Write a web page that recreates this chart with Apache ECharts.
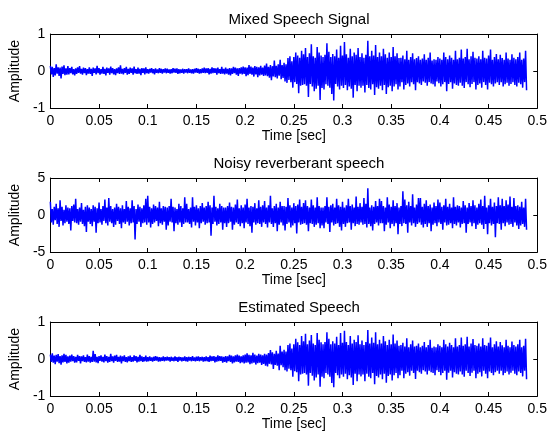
<!DOCTYPE html>
<html>
<head>
<meta charset="utf-8">
<script src="https://cdn.jsdelivr.net/npm/echarts@6/dist/echarts.min.js"></script>
<style>html,body{margin:0;padding:0;background:#fff}#c{width:550px;height:437px}</style>
</head>
<body>
<div id="c"></div>
<script>
// sample interval of the signals (seconds)
const sampleStep = 0.001;
const titles = ['Mixed Speech Signal', 'Noisy reverberant speech', 'Estimated Speech'];
const xTicks = [0, 0.05, 0.1, 0.15, 0.2, 0.25, 0.3, 0.35, 0.4, 0.45, 0.5];
const yRanges = [[-1, 1, 1], [-5, 5, 5], [-1, 1, 1]];

const mixed = [
.14,-.09,.11,-.16,.08,-.12,.18,-.07,.1,-.13,.09,-.2,.12,-.08,.15,-.11,.07,-.1,.13,-.09,
.08,-.06,.11,-.09,.05,-.12,.07,-.08,.1,-.05,.13,-.07,.06,-.1,.09,-.06,.08,-.11,.05,-.07,
.1,-.08,.06,-.13,.09,-.05,.07,-.09,.14,-.06,.08,-.1,.05,-.07,.11,-.08,.06,-.12,.09,-.05,
.07,-.1,.12,-.06,.08,-.09,.05,-.11,.07,-.06,.1,-.08,.15,-.07,.06,-.09,.08,-.05,.11,-.1,
.06,-.08,.09,-.05,.07,-.1,.12,-.06,.05,-.08,.09,-.07,.06,-.11,.08,-.05,.07,-.09,.1,-.06,
.05,-.07,.06,-.04,.08,-.06,.05,-.09,.07,-.05,.04,-.06,.08,-.05,.06,-.07,.05,-.04,.07,-.06,
.06,-.05,.04,-.07,.05,-.06,.08,-.04,.06,-.05,.07,-.08,.05,-.06,.04,-.05,.06,-.07,.05,-.04,
.05,-.06,.07,-.05,.04,-.06,.05,-.07,.06,-.04,.08,-.05,.06,-.07,.05,-.06,.07,-.05,.09,-.06,
.07,-.05,.08,-.09,.06,-.07,.1,-.06,.08,-.05,.07,-.1,.09,-.06,.05,-.08,.11,-.07,.06,-.09,
.09,-.07,.06,-.1,.08,-.12,.07,-.08,.11,-.06,.09,-.1,.07,-.13,.08,-.07,.1,-.09,.12,-.08,
.1,-.14,.09,-.11,.16,-.08,.12,-.1,.09,-.15,.13,-.09,.11,-.17,.1,-.12,.14,-.1,.09,-.13,
.15,-.12,.2,-.14,.11,-.18,.16,-.25,.13,-.15,.28,-.17,.14,-.2,.18,-.13,.3,-.22,.16,-.19,
.22,-.28,.18,-.32,.35,-.24,.4,-.3,.26,-.45,.38,-.3,.5,-.35,.42,-.6,.36,-.4,.55,-.38,
.45,-.36,.62,-.4,.38,-.7,.48,-.35,.72,-.42,.4,-.55,.36,-.48,.65,-.4,.5,-.78,.42,-.46,
.38,-.5,.44,-.36,.75,-.4,.52,-.45,.38,-.62,.46,-.8,.4,-.35,.58,-.42,.36,-.5,.68,-.4,
.42,-.46,.78,-.38,.45,-.52,.36,-.42,.6,-.48,.4,-.72,.5,-.38,.44,-.55,.62,-.4,.38,-.45,
.48,-.4,.36,-.58,.44,-.38,.82,-.46,.4,-.5,.55,-.36,.42,-.65,.7,-.44,.38,-.48,.5,-.4,
.4,-.52,.6,-.38,.45,-.62,.36,-.44,.5,-.4,.38,-.55,.65,-.42,.4,-.36,.48,-.5,.35,-.42,
.36,-.3,.42,-.5,.32,-.38,.55,-.34,.3,-.42,.38,-.3,.48,-.36,.32,-.52,.35,-.3,.4,-.34,
.3,-.38,.34,-.28,.45,-.32,.3,-.4,.36,-.3,.5,-.34,.28,-.36,.32,-.42,.3,-.28,.38,-.33,
.34,-.42,.3,-.36,.5,-.3,.38,-.55,.32,-.35,.42,-.3,.36,-.48,.3,-.34,.55,-.38,.32,-.4,
.36,-.32,.58,-.4,.34,-.46,.38,-.3,.6,-.36,.32,-.44,.4,-.35,.52,-.3,.36,-.5,.34,-.38,
.4,-.34,.32,-.45,.55,-.3,.36,-.38,.34,-.5,.42,-.32,.58,-.36,.3,-.42,.38,-.34,.46,-.3,
.32,-.38,.44,-.3,.35,-.42,.3,-.36,.5,-.32,.34,-.4,.3,-.35,.45,-.3,.36,-.38,.32,-.42,
.38,-.32,.5,-.36,.3,-.45,.34,-.3,.55,-.52
];

const noisy = [
1.8,-1,.8,-1.3,1.1,-.7,1.5,-1.2,.9,-1.6,2,-.8,1.1,-1.4,.7,-1.1,1.3,-.9,1,-1.2,
.9,-2.1,1.2,-.8,1.4,-1,2.2,-1.1,.8,-1.3,1,-.9,1.6,-1.2,.7,-1.5,1.1,-2.3,1.3,-.9,
1,-1.2,.8,-1.5,1.3,-.9,1.1,-2.4,.9,-1.1,1.7,-1,.8,-1.3,1.2,-.8,2.1,-1.1,1,-1.4,
2.3,-.9,1.2,-1.1,.8,-1.6,1,-1.3,1.5,-.8,1.1,-1.2,.9,-1.8,1.3,-1,.8,-1.2,1.9,-.9,
1.1,-1.4,.9,-1.1,2,-1,1.2,-3.3,.8,-1.2,1.4,-.9,1.1,-1.6,.9,-1.1,1.3,-1,2.2,-1.3,
2.6,-1,1.1,-1.7,.9,-1.2,1.4,-1,1.2,-.8,1,-1.5,1.8,-1.1,.9,-1.3,1.2,-.9,1.1,-2,
1,-1.4,1.2,-.9,2.2,-1,1.1,-2.2,1,-1.1,.8,-1.3,1.5,-1,1.2,-1.6,.9,-1.2,2.4,-1,
1.5,-1,.8,-1.2,1,-1.7,2.4,-.9,1.1,-1.4,1.3,-1,.9,-1.8,1.2,-1.1,1.6,-.9,1,-1.3,
1.2,-1.1,1.8,-1,1.3,-2.8,1,-1.2,2.6,-.9,1.1,-1.4,.9,-1.2,1.5,-1,1.2,-2,1,-1.1,
1,-1.6,1.2,-1.1,1.7,-.9,1.1,-2,1,-1.3,1.4,-1,2.1,-1.2,.9,-1.5,1.3,-1.1,1,-1.8,
1.4,-1,2.2,-1.2,1,-1.5,1.2,-2.4,1.1,-1,1.6,-1.3,.9,-1.1,2,-1.2,1.1,-1.6,1.3,-1,
1.9,-1.2,1,-1.7,1.3,-1,2.6,-1.2,.9,-1.6,1.2,-1.1,1.5,-2.2,1,-1.3,1.8,-1,1.2,-1.4,
1.2,-2.1,1.1,-1.2,2.3,-1,1.3,-1.7,1,-1.4,1.6,-1.1,1.2,-2.5,1.4,-1,2.1,-1.3,1.1,-1.2,
1.6,-1.1,2,-1.3,1.2,-2.2,1,-1.1,2.1,-1.2,1.3,-1.6,1,-1.3,2.4,-1.1,1.2,-1.8,1,-1.4,
1,-1.8,1.2,-1,2.4,-1.2,1.1,-2.3,1.3,-1,1.5,-1.4,1,-1.2,2.2,-1.1,1.3,-1.6,1.1,-2.1,
1.8,-1.2,1,-1.6,1.3,-1.1,2.2,-1,1.2,-2,1.4,-1.1,1,-1.5,2.5,-1.2,1.1,-1.3,1.6,-1,
1.1,-1.3,2.3,-1.2,1.5,-1.7,3.6,-1.2,1,-1.5,1.3,-2.1,1.1,-1.2,1.9,-1,1.2,-1.4,2.2,-1.1,
1.9,-1.1,1.2,-2.2,1,-1.3,2.4,-1,1.4,-1.8,1.1,-1.2,2,-1.5,1.2,-1.1,1.6,-2.6,1,-1.2,
1.2,-1.5,3.2,-1.1,2.1,-1.2,1.3,-2.4,1.8,-1,1.2,-1.4,2.8,-1.1,1,-1.6,1.4,-1.2,2.3,-1,
2.3,-1.3,1.1,-1.7,1.5,-1.2,2,-1.6,1.2,-1.1,1.4,-2.2,1,-1.3,1.7,-1.1,1.2,-1.5,2.1,-1,
1.7,-1.2,1.1,-2,1.3,-1,2.2,-1.4,1.1,-1.3,1.5,-1.1,1,-1.8,2.4,-1.2,1.1,-1.4,1.3,-1,
1.2,-1.7,1,-1.2,1.9,-1.1,1.3,-2.4,1,-1.2,1.6,-1,1.2,-1.5,2,-1.1,1.3,-1.9,1,-1.3,
1.5,-1.1,2.1,-1.3,1.2,-1.9,2.6,-1.2,1,-2.6,1.3,-1.1,2.2,-1.4,1.1,-1.2,1.7,-3,1.2,-1.1,
2.4,-1.2,1.3,-2,2.2,-1.1,1.2,-1.5,2,-1,1.4,-1.3,2.5,-1.2,1.1,-1.6,2.3,-1,1.2,-1.4,
1.3,-1.9,1.1,-1.4,1.8,-1.2,1,-1.6,2.2,-2
];

const estimated = [
.12,-.08,.15,-.1,.09,-.14,.11,-.07,.13,-.11,.08,-.15,.1,-.09,.14,-.08,.11,-.12,.07,-.1,
.09,-.07,.12,-.06,.08,-.1,.06,-.09,.11,-.05,.08,-.12,.07,-.06,.1,-.08,.05,-.09,.12,-.07,
.08,-.1,.06,-.08,.22,-.07,.13,-.09,.06,-.11,.08,-.05,.1,-.07,.06,-.09,.12,-.06,.08,-.1,
.06,-.08,.14,-.06,.07,-.1,.09,-.05,.11,-.08,.06,-.07,.09,-.12,.07,-.06,.1,-.08,.05,-.09,
.07,-.06,.09,-.08,.05,-.07,.1,-.05,.08,-.09,.06,-.07,.11,-.06,.07,-.08,.05,-.06,.09,-.07,
.05,-.06,.07,-.05,.04,-.07,.06,-.05,.08,-.04,.06,-.07,.05,-.06,.04,-.05,.07,-.06,.05,-.04,
.06,-.04,.05,-.07,.06,-.05,.04,-.06,.07,-.05,.05,-.08,.06,-.04,.05,-.06,.04,-.05,.07,-.06,
.05,-.07,.06,-.04,.05,-.06,.08,-.05,.04,-.06,.06,-.05,.07,-.06,.05,-.04,.06,-.07,.05,-.06,
.07,-.06,.05,-.08,.09,-.06,.07,-.05,.08,-.09,.06,-.07,.1,-.06,.08,-.05,.07,-.1,.06,-.08,
.08,-.1,.07,-.06,.11,-.08,.09,-.12,.07,-.09,.1,-.07,.12,-.08,.09,-.11,.07,-.09,.1,-.12,
.12,-.1,.15,-.09,.11,-.14,.1,-.12,.17,-.1,.12,-.15,.09,-.11,.14,-.1,.12,-.16,.1,-.13,
.14,-.18,.12,-.2,.16,-.13,.24,-.15,.18,-.27,.14,-.16,.22,-.18,.15,-.3,.36,-.17,.2,-.22,
.25,-.3,.2,-.34,.38,-.26,.42,-.3,.28,-.48,.4,-.33,.55,-.36,.45,-.6,.38,-.42,.62,-.4,
.48,-.38,.68,-.42,.4,-.72,.5,-.38,.65,-.45,.42,-.58,.38,-.5,.7,-.42,.52,-.75,.45,-.48,
.4,-.52,.46,-.38,.72,-.42,.55,-.48,.4,-.65,.48,-.76,.42,-.38,.6,-.44,.38,-.52,.7,-.42,
.44,-.48,.76,-.4,.46,-.55,.38,-.44,.62,-.5,.42,-.7,.52,-.4,.46,-.6,.64,-.42,.4,-.47,
.5,-.42,.38,-.6,.46,-.4,.78,-.48,.42,-.52,.58,-.38,.44,-.68,.72,-.46,.4,-.5,.52,-.42,
.42,-.55,.62,-.4,.48,-.64,.38,-.46,.52,-.42,.4,-.58,.66,-.44,.42,-.38,.5,-.52,.36,-.44,
.38,-.32,.44,-.52,.34,-.4,.56,-.36,.32,-.45,.4,-.32,.5,-.38,.34,-.54,.36,-.32,.42,-.36,
.32,-.4,.36,-.3,.46,-.34,.32,-.42,.38,-.32,.52,-.36,.3,-.38,.34,-.44,.32,-.3,.4,-.35,
.36,-.44,.32,-.38,.52,-.32,.4,-.56,.34,-.37,.44,-.32,.38,-.5,.32,-.36,.56,-.4,.34,-.42,
.38,-.34,.58,-.42,.36,-.48,.4,-.32,.6,-.38,.34,-.46,.42,-.37,.54,-.32,.38,-.52,.36,-.4,
.42,-.36,.34,-.47,.56,-.32,.38,-.4,.36,-.52,.44,-.34,.58,-.38,.32,-.44,.4,-.36,.48,-.32,
.34,-.4,.46,-.32,.37,-.44,.32,-.38,.52,-.34,.36,-.42,.32,-.37,.47,-.32,.38,-.4,.34,-.44,
.4,-.34,.52,-.38,.32,-.47,.36,-.32,.55,-.55
];

const signals = [mixed, noisy, estimated];
const toPairs = arr => arr.map((v, i) => [+(i * sampleStep).toFixed(4), v]);

const FONT = 'Liberation Sans';
const tops = [34, 178, 322];
const grids = tops.map(t => ({ left: 48, top: t, width: 493, height: 74 }));

const xAxes = [], yAxes = [], series = [], titleArr = [];
signals.forEach((sig, k) => {
  const common = {
    gridIndex: k, type: 'value', min: 0, max: 0.5, interval: 0.05,
    axisLine: { show: true, onZero: false, lineStyle: { color: '#000', width: 1 } },
    axisTick: { show: true, inside: true, length: 4, lineStyle: { color: '#000' } },
    splitLine: { show: false }
  };
  xAxes.push(Object.assign({}, common, {
    position: 'bottom',
    axisLabel: { color: '#000', fontFamily: FONT, fontSize: 14, margin: 6,
      formatter: v => String(+v.toFixed(2)) },
    name: 'Time [sec]', nameLocation: 'middle', nameGap: 21,
    nameTextStyle: { color: '#000', fontFamily: FONT, fontSize: 14 }
  }));
  xAxes.push(Object.assign({}, common, { position: 'top', axisLabel: { show: false } }));
  const [ymin, ymax, yint] = yRanges[k];
  const ycommon = {
    gridIndex: k, type: 'value', min: ymin, max: ymax, interval: yint,
    axisLine: { show: true, onZero: false, lineStyle: { color: '#000', width: 1 } },
    axisTick: { show: true, inside: true, length: 4, lineStyle: { color: '#000' } },
    splitLine: { show: false }
  };
  yAxes.push(Object.assign({}, ycommon, {
    position: 'left',
    axisLabel: { color: '#000', fontFamily: FONT, fontSize: 14, margin: 5 },
    name: 'Amplitude', nameLocation: 'middle', nameGap: 26, nameRotate: 90,
    nameTextStyle: { color: '#000', fontFamily: FONT, fontSize: 14 }
  }));
  yAxes.push(Object.assign({}, ycommon, { position: 'right', axisLabel: { show: false } }));
  series.push({
    type: 'line', xAxisIndex: 2 * k, yAxisIndex: 2 * k,
    data: toPairs(sig), showSymbol: false, symbol: 'none', sampling: null,
    lineStyle: { color: '#0000ff', width: 1.5 }, animation: false
  });
  titleArr.push({
    text: titles[k], left: 294, top: tops[k] - 27, textAlign: 'center',
    textStyle: { color: '#000', fontFamily: FONT, fontSize: 15, fontWeight: 'normal' }
  });
});

const chart = echarts.init(document.getElementById('c'), null, { renderer: 'canvas' });
chart.setOption({
  backgroundColor: '#fff',
  animation: false,
  title: titleArr,
  grid: grids,
  xAxis: xAxes,
  yAxis: yAxes,
  series: series
});
</script>
</body>
</html>
